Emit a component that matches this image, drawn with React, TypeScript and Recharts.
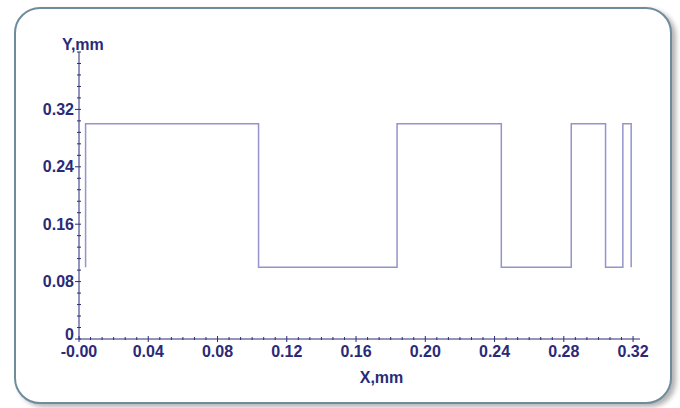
import { LineChart, Line, XAxis, YAxis, Label } from 'recharts';

// step profile: x of each edge (mm) and the height between edges (mm)
const edgeX = [0.0038, 0.1037, 0.1837, 0.2439, 0.2843, 0.3041, 0.3141, 0.3189];
const levels = [0.1, 0.3, 0.1, 0.3, 0.1, 0.3, 0.1, 0.3, 0.1];

const xMajorTicks = [0, 0.04, 0.08, 0.12, 0.16, 0.2, 0.24, 0.28, 0.32];
const yMajorTicks = [0, 0.08, 0.16, 0.24, 0.32];
const xDomain = [0, 0.324];
const yDomain = [0, 0.4];
const xMinorPerMajor = 6;
const yMinorPerMajor = 5;

const NAVY = '#2a2a78';
const FONT = '"Liberation Sans", Arial, sans-serif';

const data: { x: number; y: number }[] = [];
edgeX.forEach((x, i) => {
  data.push({ x, y: levels[i] });
  data.push({ x, y: levels[i + 1] });
});

function minorTicks(majors: number[], per: number, max: number) {
  const step = (majors[1] - majors[0]) / per;
  const out: number[] = [];
  for (let i = 0; i * step <= max + 1e-9; i++) out.push(+(i * step).toFixed(6));
  return out;
}

const xTicks = minorTicks(xMajorTicks, xMinorPerMajor, xDomain[1]);
const yTicks = minorTicks(yMajorTicks, yMinorPerMajor, yDomain[1]);

const isMajor = (v: number, majors: number[]) => majors.some((m) => Math.abs(m - v) < 1e-6);

const XTick = (props: any) => {
  const { x, y, payload } = props;
  const v = payload.value;
  const major = isMajor(v, xMajorTicks);
  return (
    <g>
      <line x1={x} x2={x} y1={y - (major ? 3 : 2)} y2={y + (major ? 3 : 1)} stroke={NAVY} strokeWidth={1} />
      {major && (
        <text x={x} y={y + 18} textAnchor="middle" fill={NAVY} fontSize={16} fontWeight="bold" fontFamily={FONT}>
          {v === 0 ? '-0.00' : v.toFixed(2)}
        </text>
      )}
    </g>
  );
};

const YTick = (props: any) => {
  const { x, y, payload } = props;
  const v = payload.value;
  const major = isMajor(v, yMajorTicks);
  return (
    <g>
      <line x1={x - (major ? 4 : 2)} x2={x + 2} y1={y} y2={y} stroke={NAVY} strokeWidth={1} />
      {major && (
        <text
          x={x - 5}
          y={v === 0 ? y - 5 : y}
          dy="0.35em"
          textAnchor="end"
          fill={NAVY}
          fontSize={16}
          fontWeight="bold"
          fontFamily={FONT}
        >
          {v === 0 ? '0' : v.toFixed(2)}
        </text>
      )}
    </g>
  );
};

export default function App() {
  return (
    <div style={{ position: 'absolute', left: 0, top: 0, width: 680, height: 408, background: '#fff' }}>
      <div
        style={{
          position: 'absolute',
          left: 14,
          top: 7,
          width: 658,
          height: 397,
          boxSizing: 'border-box',
          border: '2px solid #6f8c9c',
          borderRadius: 26,
          background: '#fff',
          boxShadow: '4px 3px 5px rgba(0,0,0,0.3)',
        }}
      />
      <div style={{ position: 'absolute', left: 0, top: 0 }}>
        <LineChart width={680} height={408} data={data} margin={{ top: 52, right: 40, left: 19, bottom: 39 }}>
          <XAxis
            dataKey="x"
            type="number"
            domain={xDomain}
            ticks={xTicks}
            interval={0}
            tickSize={0}
            tickMargin={0}
            tickLine={false}
            tick={<XTick />}
            height={30}
            axisLine={{ stroke: NAVY, strokeWidth: 1 }}
            allowDataOverflow
          >
            <Label
              content={({ viewBox }: any) => (
                <text
                  x={viewBox.x + viewBox.width / 2 + 22}
                  y={viewBox.y + 44}
                  textAnchor="middle"
                  fill={NAVY}
                  fontSize={16}
                  fontWeight="bold"
                  fontFamily={FONT}
                >
                  X,mm
                </text>
              )}
            />
          </XAxis>
          <YAxis
            type="number"
            domain={yDomain}
            ticks={yTicks}
            interval={0}
            tickSize={0}
            tickMargin={0}
            tickLine={false}
            tick={<YTick />}
            width={60}
            axisLine={{ stroke: NAVY, strokeWidth: 1 }}
            allowDataOverflow
          >
            <Label
              content={({ viewBox }: any) => (
                <text
                  x={viewBox.x + viewBox.width - 17}
                  y={viewBox.y - 2}
                  textAnchor="start"
                  fill={NAVY}
                  fontSize={16}
                  fontWeight="bold"
                  fontFamily={FONT}
                >
                  Y,mm
                </text>
              )}
            />
          </YAxis>
          <Line
            dataKey="y"
            type="linear"
            stroke="#9494cc"
            strokeWidth={1.5}
            dot={false}
            activeDot={false}
            isAnimationActive={false}
          />
        </LineChart>
      </div>
    </div>
  );
}
